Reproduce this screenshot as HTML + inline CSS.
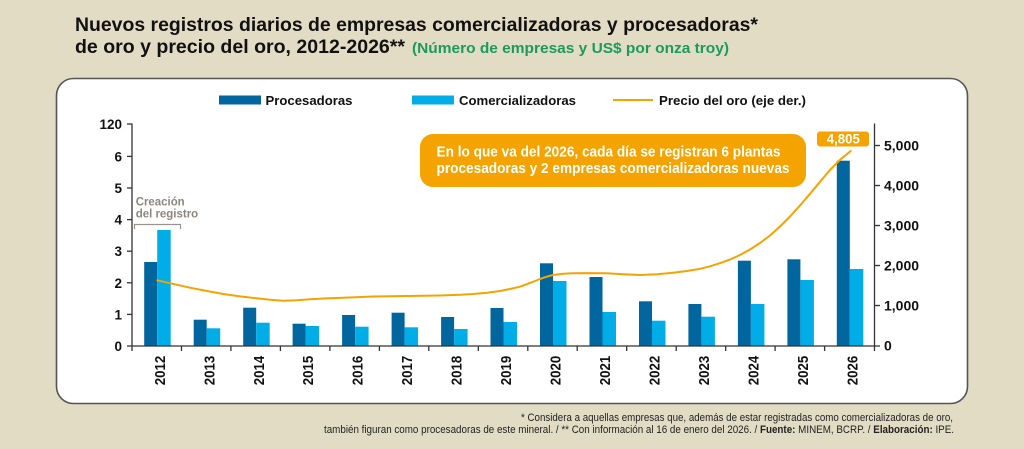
<!DOCTYPE html>
<html><head><meta charset="utf-8"><style>
html,body{margin:0;padding:0;background:#e3dcc5;}
svg{display:block;}
text{font-family:"Liberation Sans",Arial,sans-serif;}
</style></head><body>
<svg width="1024" height="449" viewBox="0 0 1024 449" xmlns="http://www.w3.org/2000/svg">
<rect x="0" y="0" width="1024" height="449" fill="#e3dcc5"/>
<!-- title -->
<text x="75" y="31" font-size="19" font-weight="bold" fill="#111" textLength="683" lengthAdjust="spacingAndGlyphs">Nuevos registros diarios de empresas comercializadoras y procesadoras*</text>
<text x="75" y="53" font-size="19" font-weight="bold" fill="#111" textLength="330" lengthAdjust="spacingAndGlyphs">de oro y precio del oro, 2012-2026**</text>
<text x="412" y="53" font-size="15" font-weight="bold" fill="#1a9b5c" textLength="317" lengthAdjust="spacingAndGlyphs">(Número de empresas y US$ por onza troy)</text>
<!-- panel -->
<rect x="56.5" y="78.5" width="911" height="325" rx="17" ry="17" fill="#fff" stroke="#555" stroke-width="1.6"/>
<!-- legend -->
<rect x="219" y="95.5" width="42" height="9" fill="#00669d"/>
<text x="265.5" y="105" font-size="13" font-weight="bold" fill="#111" textLength="87" lengthAdjust="spacingAndGlyphs">Procesadoras</text>
<rect x="412" y="95.5" width="42" height="9" fill="#00ade6"/>
<text x="459" y="105" font-size="13" font-weight="bold" fill="#111" textLength="117" lengthAdjust="spacingAndGlyphs">Comercializadoras</text>
<line x1="613" y1="100" x2="653" y2="100" stroke="#f5a300" stroke-width="2"/>
<text x="659" y="105" font-size="13" font-weight="bold" fill="#111" textLength="147" lengthAdjust="spacingAndGlyphs">Precio del oro (eje der.)</text>
<!-- bars -->
<g fill="#00669d">
<rect x="144.2" y="262" width="13" height="84"/>
<rect x="193.7" y="319.7" width="13" height="26.3"/>
<rect x="243.2" y="307.7" width="13" height="38.3"/>
<rect x="292.6" y="323.7" width="13" height="22.3"/>
<rect x="342.1" y="315" width="13" height="31"/>
<rect x="391.6" y="312.7" width="13" height="33.3"/>
<rect x="441.1" y="317" width="13" height="29"/>
<rect x="490.5" y="308" width="13" height="38"/>
<rect x="540" y="263.3" width="13" height="82.7"/>
<rect x="589.5" y="277" width="13" height="69"/>
<rect x="639" y="301.3" width="13" height="44.7"/>
<rect x="688.4" y="304" width="13" height="42"/>
<rect x="737.9" y="260.7" width="13" height="85.3"/>
<rect x="787.4" y="259.3" width="13" height="86.7"/>
<rect x="836.8" y="160.7" width="13" height="185.3"/>
</g>
<g fill="#00ade6">
<rect x="157.2" y="230" width="13.5" height="116"/>
<rect x="206.7" y="328.3" width="13.5" height="17.7"/>
<rect x="256.2" y="322.7" width="13.5" height="23.3"/>
<rect x="305.6" y="326" width="13.5" height="20"/>
<rect x="355.1" y="326.7" width="13.5" height="19.3"/>
<rect x="404.6" y="327.3" width="13.5" height="18.7"/>
<rect x="454.1" y="329" width="13.5" height="17"/>
<rect x="503.5" y="322" width="13.5" height="24"/>
<rect x="553" y="281" width="13.5" height="65"/>
<rect x="602.5" y="312" width="13.5" height="34"/>
<rect x="652" y="320.7" width="13.5" height="25.3"/>
<rect x="701.4" y="316.7" width="13.5" height="29.3"/>
<rect x="750.9" y="304" width="13.5" height="42"/>
<rect x="800.4" y="280" width="13.5" height="66"/>
<rect x="849.8" y="269" width="13.5" height="77"/>
</g>
<!-- gold line -->
<polyline fill="none" stroke="#f5a300" stroke-width="2" stroke-linejoin="round" stroke-linecap="round" points="157.3,280.3 175,284.3 190,287.7 207,291 223.3,294 240,296.4 256.7,298.3 270,299.7 283.3,300.7 297,300.3 310,299.3 326,298.4 343,297.7 373,296.5 406.7,296 440,295.5 460,294.8 473,294 487,292.8 500,291 510,289 520,286.7 530,283 540,279 547,276.6 553,275 563,273.8 573,273.3 590,273.1 606.7,273.3 623,274.2 640,275 657,274.3 673,272.7 687,271 700,268.8 710,266.3 720,263.2 730,259.5 740,255 750,249.5 760,243 770,235.5 780,226.5 790,216.5 800,205.5 810,193.8 820,181.8 830,170 840,159.8 850.7,151"/>
<!-- callout -->
<rect x="420" y="134" width="386" height="53" rx="13" ry="13" fill="#f5a300"/>
<text x="436.5" y="156.5" font-size="15" font-weight="bold" fill="#fff" textLength="344" lengthAdjust="spacingAndGlyphs">En lo que va del 2026, cada día se registran 6 plantas</text>
<text x="436.5" y="173" font-size="15" font-weight="bold" fill="#fff" textLength="353" lengthAdjust="spacingAndGlyphs">procesadoras y 2 empresas comercializadoras nuevas</text>
<rect x="817" y="131.5" width="52" height="15" rx="3" ry="3" fill="#f5a300"/>
<text x="843.3" y="143.5" font-size="13.5" font-weight="bold" fill="#fff" text-anchor="middle" textLength="33" lengthAdjust="spacingAndGlyphs">4,805</text>
<!-- creation note -->
<text x="135.7" y="205.7" font-size="12" font-weight="bold" fill="#8f8580" textLength="49" lengthAdjust="spacingAndGlyphs">Creación</text>
<text x="135.7" y="217.3" font-size="12" font-weight="bold" fill="#8f8580" textLength="62.5" lengthAdjust="spacingAndGlyphs">del registro</text>
<polyline fill="none" stroke="#9a9290" stroke-width="1.2" points="134.5,229 134.5,224.5 180.5,224.5 180.5,229"/>
<!-- axes -->
<g stroke="#333" stroke-width="1.3" fill="none">
<line x1="132" y1="123.5" x2="132" y2="351"/>
<line x1="874.5" y1="123.5" x2="874.5" y2="351"/>
<line x1="127" y1="346" x2="880" y2="346"/>
<line x1="127" y1="124" x2="132" y2="124"/>
<line x1="127" y1="156.4" x2="132" y2="156.4"/>
<line x1="127" y1="188" x2="132" y2="188"/>
<line x1="127" y1="219.6" x2="132" y2="219.6"/>
<line x1="127" y1="251.2" x2="132" y2="251.2"/>
<line x1="127" y1="282.8" x2="132" y2="282.8"/>
<line x1="127" y1="314.4" x2="132" y2="314.4"/>
<line x1="874.5" y1="305.5" x2="880" y2="305.5"/>
<line x1="874.5" y1="265.5" x2="880" y2="265.5"/>
<line x1="874.5" y1="225.5" x2="880" y2="225.5"/>
<line x1="874.5" y1="185.5" x2="880" y2="185.5"/>
<line x1="874.5" y1="145.5" x2="880" y2="145.5"/>
<line x1="181.5" y1="346" x2="181.5" y2="351"/>
<line x1="230.9" y1="346" x2="230.9" y2="351"/>
<line x1="280.4" y1="346" x2="280.4" y2="351"/>
<line x1="329.9" y1="346" x2="329.9" y2="351"/>
<line x1="379.4" y1="346" x2="379.4" y2="351"/>
<line x1="428.8" y1="346" x2="428.8" y2="351"/>
<line x1="478.3" y1="346" x2="478.3" y2="351"/>
<line x1="527.8" y1="346" x2="527.8" y2="351"/>
<line x1="577.2" y1="346" x2="577.2" y2="351"/>
<line x1="626.7" y1="346" x2="626.7" y2="351"/>
<line x1="676.2" y1="346" x2="676.2" y2="351"/>
<line x1="725.7" y1="346" x2="725.7" y2="351"/>
<line x1="775.1" y1="346" x2="775.1" y2="351"/>
<line x1="824.6" y1="346" x2="824.6" y2="351"/>
</g>
<!-- left labels -->
<g font-size="13.5" font-weight="bold" fill="#111" text-anchor="end">
<text x="122" y="129">120</text>
<text x="122" y="161.4">6</text>
<text x="122" y="193">5</text>
<text x="122" y="224.6">4</text>
<text x="122" y="256.2">3</text>
<text x="122" y="287.8">2</text>
<text x="122" y="319.4">1</text>
<text x="122" y="351">0</text>
</g>
<!-- right labels -->
<g font-size="14" font-weight="bold" fill="#111">
<text x="884" y="350.5">0</text>
<text x="884" y="310.5">1,000</text>
<text x="884" y="270.5">2,000</text>
<text x="884" y="230.5">3,000</text>
<text x="884" y="190.5">4,000</text>
<text x="884" y="150.5">5,000</text>
</g>
<!-- year labels -->
<g font-size="15" font-weight="bold" fill="#111" text-anchor="middle">
<text transform="translate(164.8,370.5) rotate(-90)" textLength="29.5" lengthAdjust="spacingAndGlyphs">2012</text>
<text transform="translate(214.3,370.5) rotate(-90)" textLength="29.5" lengthAdjust="spacingAndGlyphs">2013</text>
<text transform="translate(263.8,370.5) rotate(-90)" textLength="29.5" lengthAdjust="spacingAndGlyphs">2014</text>
<text transform="translate(313.2,370.5) rotate(-90)" textLength="29.5" lengthAdjust="spacingAndGlyphs">2015</text>
<text transform="translate(362.7,370.5) rotate(-90)" textLength="29.5" lengthAdjust="spacingAndGlyphs">2016</text>
<text transform="translate(412.2,370.5) rotate(-90)" textLength="29.5" lengthAdjust="spacingAndGlyphs">2017</text>
<text transform="translate(461.7,370.5) rotate(-90)" textLength="29.5" lengthAdjust="spacingAndGlyphs">2018</text>
<text transform="translate(511.1,370.5) rotate(-90)" textLength="29.5" lengthAdjust="spacingAndGlyphs">2019</text>
<text transform="translate(560.6,370.5) rotate(-90)" textLength="29.5" lengthAdjust="spacingAndGlyphs">2020</text>
<text transform="translate(610.1,370.5) rotate(-90)" textLength="29.5" lengthAdjust="spacingAndGlyphs">2021</text>
<text transform="translate(659.6,370.5) rotate(-90)" textLength="29.5" lengthAdjust="spacingAndGlyphs">2022</text>
<text transform="translate(709,370.5) rotate(-90)" textLength="29.5" lengthAdjust="spacingAndGlyphs">2023</text>
<text transform="translate(758.5,370.5) rotate(-90)" textLength="29.5" lengthAdjust="spacingAndGlyphs">2024</text>
<text transform="translate(808,370.5) rotate(-90)" textLength="29.5" lengthAdjust="spacingAndGlyphs">2025</text>
<text transform="translate(857.4,370.5) rotate(-90)" textLength="29.5" lengthAdjust="spacingAndGlyphs">2026</text>
</g>
<!-- footnote -->
<text x="521" y="421" font-size="11" fill="#222" textLength="432" lengthAdjust="spacingAndGlyphs">* Considera a aquellas empresas que, además de estar registradas como comercializadoras de oro,</text>
<text x="324" y="433" font-size="11" fill="#222" textLength="630" lengthAdjust="spacingAndGlyphs">también figuran como procesadoras de este mineral. / ** Con información al 16 de enero del 2026. /  <tspan font-weight="bold">Fuente:</tspan> MINEM, BCRP. / <tspan font-weight="bold">Elaboración:</tspan> IPE.</text>
</svg>
</body></html>
